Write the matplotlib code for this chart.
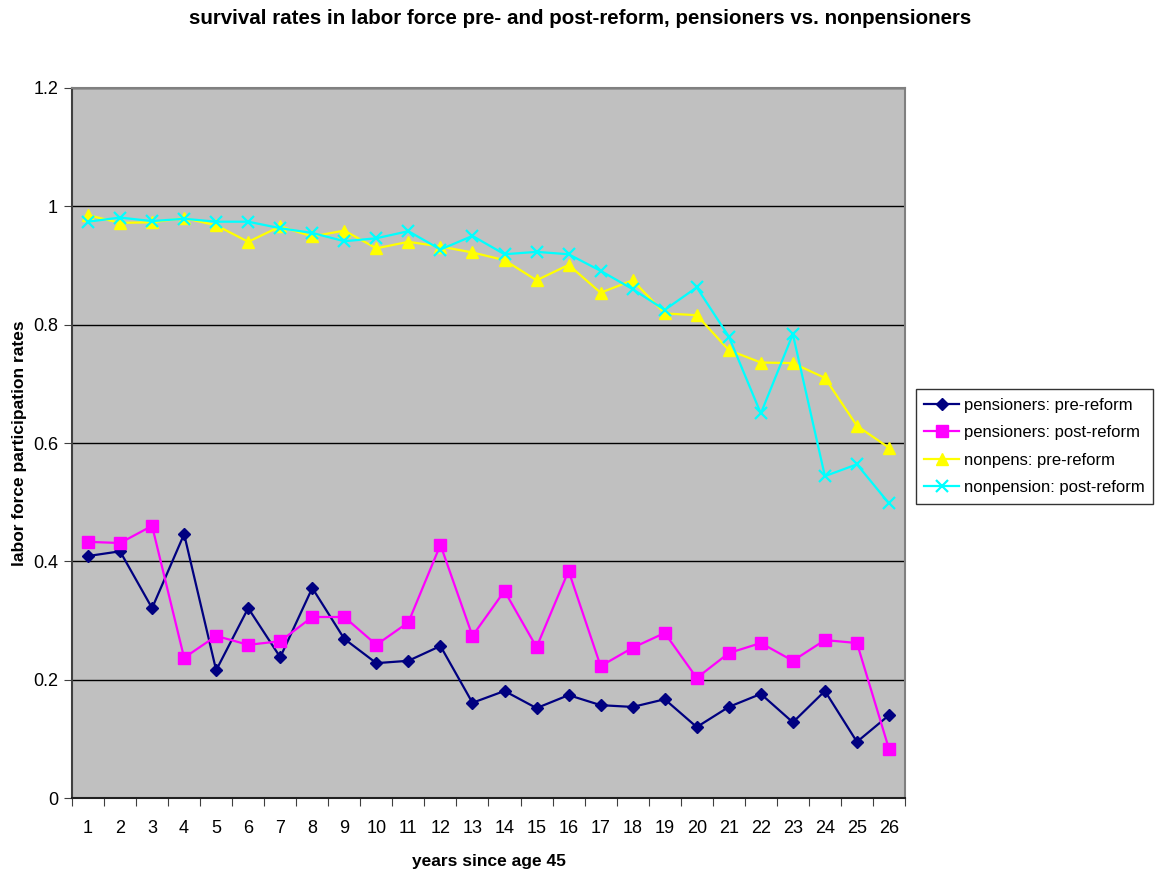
import matplotlib.pyplot as plt
from matplotlib.ticker import FixedLocator, NullFormatter

plt.rcParams['font.family'] = ['Liberation Sans', 'DejaVu Sans']

years = list(range(1, 27))

pens_pre = [0.409, 0.417, 0.321, 0.446, 0.216, 0.321, 0.238, 0.355, 0.269, 0.228,
            0.232, 0.257, 0.161, 0.181, 0.152, 0.174, 0.157, 0.154, 0.167, 0.120,
            0.154, 0.176, 0.128, 0.181, 0.095, 0.140]
pens_post = [0.433, 0.431, 0.460, 0.237, 0.274, 0.259, 0.265, 0.306, 0.306, 0.259,
             0.297, 0.428, 0.274, 0.350, 0.255, 0.384, 0.223, 0.254, 0.279, 0.203,
             0.245, 0.262, 0.232, 0.267, 0.262, 0.083]
nonpens_pre = [0.985, 0.972, 0.973, 0.980, 0.968, 0.940, 0.966, 0.949, 0.959, 0.929,
               0.940, 0.932, 0.922, 0.909, 0.875, 0.901, 0.854, 0.875, 0.819, 0.816,
               0.757, 0.736, 0.735, 0.710, 0.629, 0.592]
nonpens_post = [0.974, 0.981, 0.975, 0.979, 0.974, 0.974, 0.963, 0.955, 0.941, 0.946,
                0.958, 0.927, 0.950, 0.919, 0.923, 0.919, 0.891, 0.860, 0.825, 0.863,
                0.780, 0.650, 0.784, 0.544, 0.564, 0.498]

fig = plt.figure(figsize=(11.61, 8.77), dpi=100)
ax = fig.add_axes([0.062, 0.090, 0.7175, 0.8097])
ax.set_facecolor('#C0C0C0')

ax.plot(years, pens_pre, color='#000080', marker='D', markersize=6, lw=1.6,
        label='pensioners: pre-reform')
ax.plot(years, pens_post, color='#FF00FF', marker='s', markersize=8, lw=1.6,
        label='pensioners: post-reform')
ax.plot(years, nonpens_pre, color='#FFFF00', marker='^', markersize=8, lw=1.6,
        label='nonpens: pre-reform')
ax.plot(years, nonpens_post, color='#00FFFF', marker='x', markersize=8, mew=1.6, lw=1.6,
        label='nonpension: post-reform')

ax.set_xlim(0.5, 26.5)
ax.set_ylim(0, 1.2)
ax.set_yticks([0, 0.2, 0.4, 0.6, 0.8, 1, 1.2])
ax.set_yticklabels(['0', '0.2', '0.4', '0.6', '0.8', '1', '1.2'])
ax.yaxis.grid(True, color='black', lw=1)
ax.set_axisbelow(True)

# excel style category axis: ticks between categories, labels centred
ax.xaxis.set_major_locator(FixedLocator([i + 0.5 for i in range(0, 27)]))
ax.xaxis.set_major_formatter(NullFormatter())
ax.xaxis.set_minor_locator(FixedLocator(years))
ax.set_xticklabels([str(y) for y in years], minor=True)
ax.tick_params(axis='x', which='major', length=6, direction='out', color='#404040')
ax.tick_params(axis='x', which='minor', length=0, labelsize=13, pad=16)
ax.tick_params(axis='y', length=6, direction='out', labelsize=13, color='#404040', pad=4)

ax.spines['bottom'].set_color('#202020')
ax.spines['bottom'].set_linewidth(1.5)
ax.spines['left'].set_color('#404040')
ax.spines['left'].set_linewidth(1.5)
for side in ['top', 'right']:
    ax.spines[side].set_color('#808080')
    ax.spines[side].set_linewidth(1.5)

ax.set_xlabel('years since age 45', fontsize=12.5, fontweight='bold', labelpad=12)
ax.set_ylabel('labor force participation rates', fontsize=12.5, fontweight='bold', labelpad=4)
fig.suptitle('survival rates in labor force pre- and post-reform, pensioners vs. nonpensioners',
             fontsize=14.8, fontweight='bold', y=0.99)

leg = ax.legend(loc='center left', bbox_to_anchor=(1.013, 0.495), fontsize=12,
                frameon=True, fancybox=False, edgecolor='black', borderpad=0.5,
                handlelength=2.1, handletextpad=0.3, labelspacing=0.75,
                borderaxespad=0.0)
leg.get_frame().set_linewidth(1)

plt.savefig('out.png', dpi=100)
